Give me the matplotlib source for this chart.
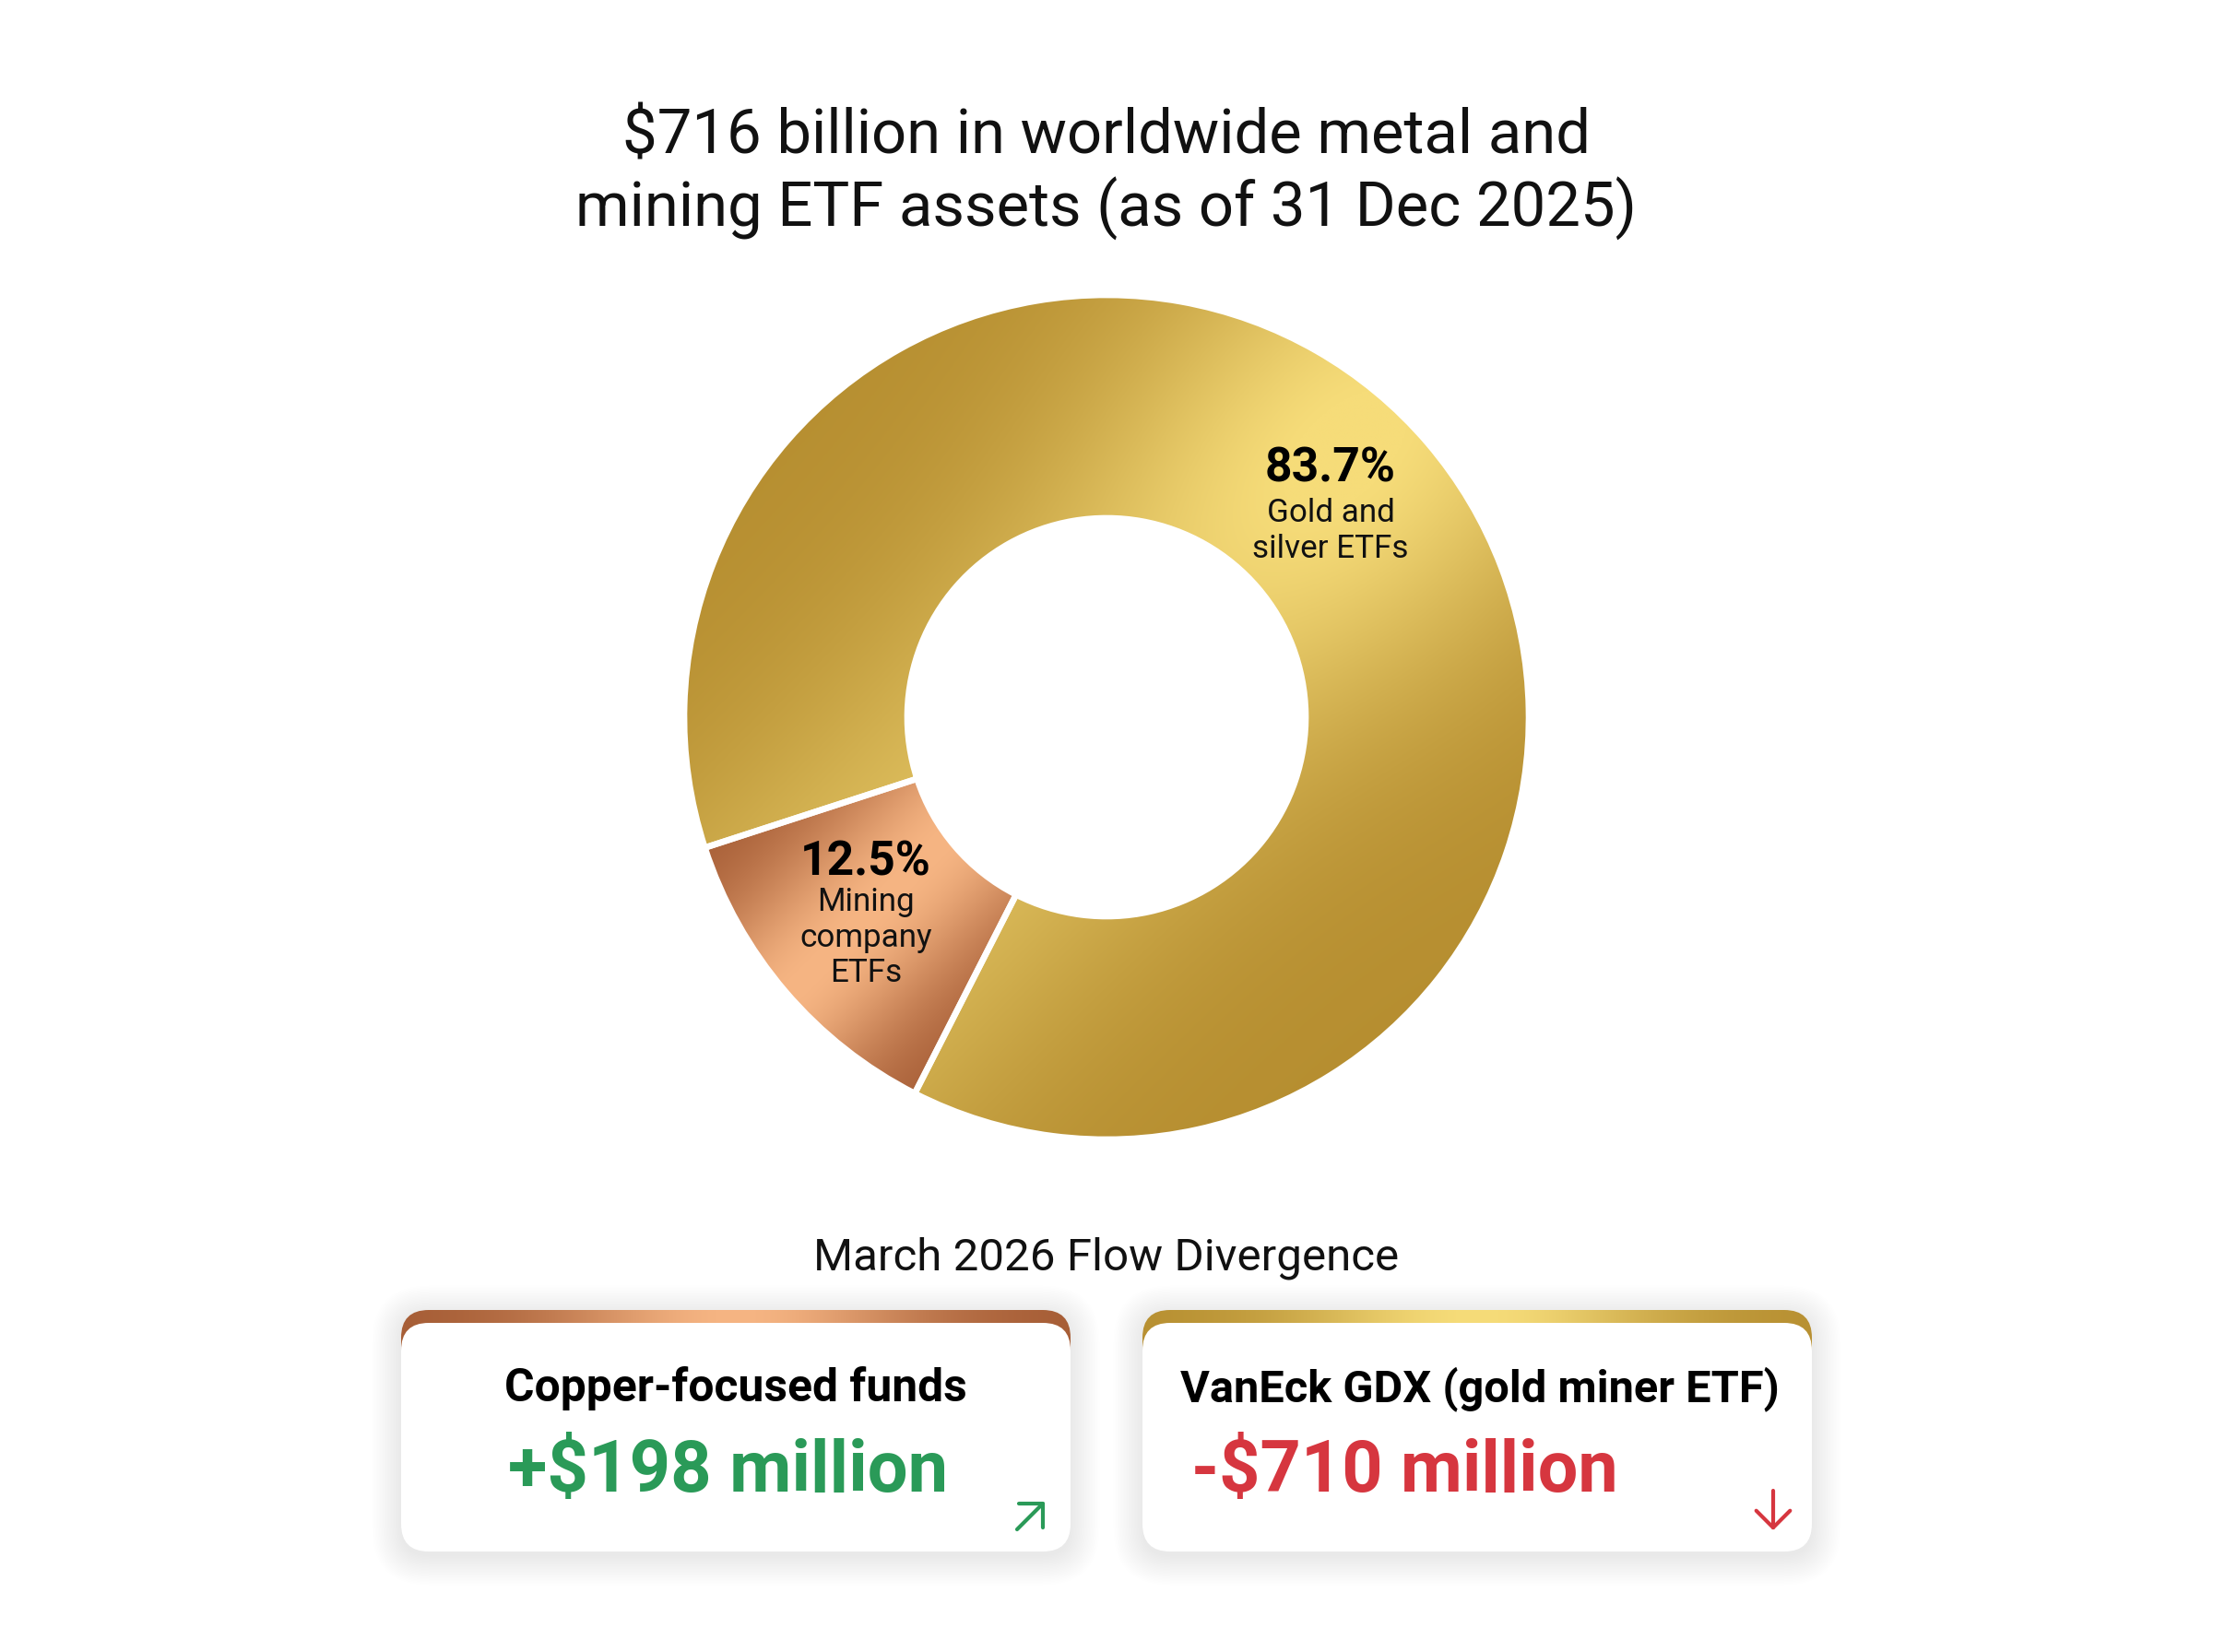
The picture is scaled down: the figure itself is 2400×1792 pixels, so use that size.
import numpy as np
import matplotlib
matplotlib.use('Agg')
import matplotlib.pyplot as plt
from matplotlib.patches import FancyBboxPatch
from matplotlib.colors import to_rgb

plt.rcParams['font.family'] = ['Roboto', 'DejaVu Sans']
plt.rcParams['text.parse_math'] = False

# chart data
title_lines = ['$716 billion in worldwide metal and', 'mining ETF assets (as of 31 Dec 2025)']
segment_shares = [83.7, 12.5]          # % of metal & mining ETF assets
segment_names = [['Gold and', 'silver ETFs'], ['Mining', 'company', 'ETFs']]
flow_heading = 'March 2026 Flow Divergence'
flow_names = ['Copper-focused funds', 'VanEck GDX (gold miner ETF)']
flow_values = [198, -710]              # $ million

W, H = 2400, 1792
GOLD = ('#B68E30', '#F6DC79')
COPPER = ('#A45B34', '#F6B583')
GREEN = '#2A9A58'
RED = '#D6363F'

fig = plt.figure(figsize=(12, 8.96), dpi=200)
fig.patch.set_facecolor('white')
ax = fig.add_axes([0, 0, 1, 1])
renderer = fig.canvas.get_renderer()


def ramp(c0, c1, f):
    c0 = np.array(to_rgb(c0))
    c1 = np.array(to_rgb(c1))
    return c0 + (c1 - c0) * f[..., None]


def fit(t, width):
    # scale font so the text block is `width` pixels wide
    bb = t.get_window_extent(renderer)
    t.set_fontsize(t.get_fontsize() * width / bb.width)
    return t.get_fontsize()


# ---- donut ----
cx, cy, R, r_in = 1200, H - 778, 458, 216
# gold slice is drawn over everything that is not the mining slice
gold_drawn = 100 - segment_shares[1]
wedges, _ = ax.pie([gold_drawn, segment_shares[1]], startangle=243, counterclock=True,
                   radius=R, center=(cx, cy), frame=True,
                   wedgeprops=dict(width=R - r_in, facecolor='none',
                                   edgecolor='white', linewidth=2.4, zorder=3))

n = 700
xs = np.linspace(cx - R, cx + R, n)
ys = np.linspace(cy - R, cy + R, n)
X, Y = np.meshgrid(xs, ys)

# gold: light diagonal band plus a highlight at the upper right
u = ((X - cx) - (Y - cy)) / (np.sqrt(2) * R)
band = np.exp(-((u + 0.06) / 0.5) ** 2)
spot = np.exp(-((X - 1470) ** 2 + (Y - (H - 500)) ** 2) / (2 * 190 ** 2))
f = np.clip(0.62 * band + 0.42 * spot, 0, 1)
im = ax.imshow(ramp(*GOLD, f), extent=(cx - R, cx + R, cy - R, cy + R),
               origin='lower', zorder=2, interpolation='bilinear')
im.set_clip_path(wedges[0])

# copper: light band through the middle of the slice
x0c, y0c = 935, H - 1000
uc = ((X - x0c) - (Y - y0c)) / (np.sqrt(2) * 150)
f = np.exp(-(uc / 0.75) ** 2)
im = ax.imshow(ramp(*COPPER, f), extent=(cx - R, cx + R, cy - R, cy + R),
               origin='lower', zorder=2, interpolation='bilinear')
im.set_clip_path(wedges[1])

# slice labels
pct_pos = [(1443, 522), (939, 949)]
name_pos = [(1443, 566), (939, 988)]
pct_texts = []
for share, (x, y) in zip(segment_shares, pct_pos):
    pct_texts.append(ax.text(x, H - y, f'{share}%', ha='center', va='baseline',
                             fontsize=18, fontweight='bold', color='black', zorder=5))
fs = fit(pct_texts[0], 142)
pct_texts[1].set_fontsize(fs)

name_texts = []
for names, (x, y) in zip(segment_names, name_pos):
    for i, line in enumerate(names):
        name_texts.append(ax.text(x, H - (y + i * 38.5), line, ha='center', va='baseline',
                                  fontsize=12, color='#111111', zorder=5))
fs = fit(name_texts[1], 169)
for t in name_texts:
    t.set_fontsize(fs)

# ---- title ----
t1 = ax.text(W / 2, H - 166, title_lines[0], ha='center', va='baseline', fontsize=24, color='#111111')
t2 = ax.text(W / 2, H - 246, title_lines[1], ha='center', va='baseline', fontsize=24, color='#111111')
fs = fit(t2, 1151)
t1.set_fontsize(fs)

# ---- flow cards ----
h = ax.text(W / 2, H - 1377, flow_heading, ha='center', va='baseline', fontsize=16, color='#111111')
fit(h, 636)

cards = [(435, 1161), (1239, 1965)]
bar_colors = [COPPER, GOLD]
name_x = [798, 1605]
name_w = [502, 651]
value_x = [790, 1292]
value_ha = ['center', 'left']
value_w = [477, 463]
arrows = [((1103, 1659), (1133, 1629)), ((1923, 1617), (1923, 1660))]

for k, (x0, x1) in enumerate(cards):
    top, wtop, bot, rad = 1421, 1435, 1683, 30
    w = x1 - x0
    # soft shadow
    for s in range(22):
        ax.add_patch(FancyBboxPatch((x0 - s * 1.5, H - bot - 5 - s * 1.5), w + s * 3.0,
                                    bot - top + s * 3.0,
                                    boxstyle=f'round,pad=0,rounding_size={rad + s * 1.5}',
                                    fc='black', ec='none', alpha=0.0035, zorder=1))
    bar = FancyBboxPatch((x0, H - 1600), w, 1600 - top,
                         boxstyle=f'round,pad=0,rounding_size={rad}', fc='none', ec='none', zorder=2)
    ax.add_patch(bar)
    bx = np.linspace(-1, 1, 400)
    fb = np.exp(-(bx / 0.55) ** 2)[None, :].repeat(2, axis=0)
    im = ax.imshow(ramp(*bar_colors[k], fb), extent=(x0, x1, H - 1600, H - top),
                   origin='lower', zorder=2, interpolation='bilinear', aspect='auto')
    im.set_clip_path(bar)
    ax.add_patch(FancyBboxPatch((x0, H - bot), w, bot - wtop,
                                boxstyle=f'round,pad=0,rounding_size={rad}',
                                fc='white', ec='none', zorder=4))

    t = ax.text(name_x[k], H - 1520, flow_names[k], ha='center', va='baseline',
                fontsize=16, fontweight='bold', color='black', zorder=5)
    fit(t, name_w[k])

    v = flow_values[k]
    label = f'+${v} million' if v > 0 else f'-${abs(v)} million'
    col = GREEN if v > 0 else RED
    t = ax.text(value_x[k], H - 1618, label, ha=value_ha[k], va='baseline',
                fontsize=28, fontweight='bold', color=col, zorder=5)
    fit(t, value_w[k])

    (tx, ty), (hx, hy) = arrows[k]
    ax.annotate('', xy=(hx, H - hy), xytext=(tx, H - ty), zorder=6,
                arrowprops=dict(arrowstyle='->,head_length=0.6,head_width=0.6',
                                color=col, lw=1.5, mutation_scale=11,
                                shrinkA=0, shrinkB=0))

ax.set_xlim(0, W)
ax.set_ylim(0, H)
ax.set_aspect('equal')
ax.axis('off')

fig.savefig('out.png', dpi=200, facecolor='white')
